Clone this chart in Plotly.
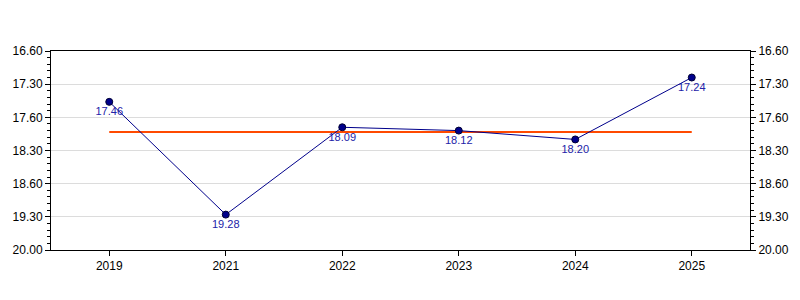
import plotly.graph_objects as go

years = ["2019", "2021", "2022", "2023", "2024", "2025"]
times = ["17.46", "19.28", "18.09", "18.12", "18.20", "17.24"]  # minutes.seconds
tick_vals = [17.0, 17.5, 18.0, 18.5, 19.0, 19.5, 20.0]
tick_text = ["16.60", "17.30", "17.60", "18.30", "18.60", "19.30", "20.00"]

minutes = [int(t.split(".")[0]) + int(t.split(".")[1]) / 60 for t in times]
mean_val = sum(minutes) / len(minutes)

font = "Liberation Sans, Arial, sans-serif"

fig = go.Figure()
fig.add_trace(go.Scatter(
    x=years, y=[mean_val] * len(years), mode="lines",
    line=dict(color="#FF4A00", width=2), hoverinfo="skip", showlegend=False))
fig.add_trace(go.Scatter(
    x=years, y=minutes, mode="lines+markers+text",
    line=dict(color="#00008B", width=1),
    marker=dict(color="#00008B", size=7, line=dict(color="#000033", width=1)),
    text=times, textposition="bottom center",
    textfont=dict(color="#2222A8", size=11, family=font),
    showlegend=False))
fig.add_trace(go.Scatter(
    x=years, y=minutes, yaxis="y2", mode="markers",
    marker=dict(opacity=0), hoverinfo="skip", showlegend=False))

yax = dict(
    range=[20, 17], tickvals=tick_vals, ticktext=tick_text,
    ticks="outside", ticklen=5, tickcolor="black",
    showline=True, linecolor="black", linewidth=1,
    showgrid=True, gridcolor="#dcdcdc", gridwidth=1,
    zeroline=False, tickfont=dict(size=12, color="black", family=font),
    minor=dict(dtick=0.1, tick0=17, ticks="outside", ticklen=3, tickcolor="black", showgrid=False),
)

fig.update_layout(
    width=800, height=300,
    margin=dict(l=51, r=50, t=51, b=50),
    paper_bgcolor="white", plot_bgcolor="white",
    xaxis=dict(
        type="category", range=[-0.5, 5.5],
        ticks="outside", ticklen=5, tickcolor="black",
        showline=True, linecolor="black", linewidth=1, mirror=True,
        showgrid=False, tickfont=dict(size=12, color="black", family=font),
    ),
    yaxis=yax,
    yaxis2=dict(yax, overlaying="y", side="right", showgrid=False),
)

fig.write_html("out.html")
